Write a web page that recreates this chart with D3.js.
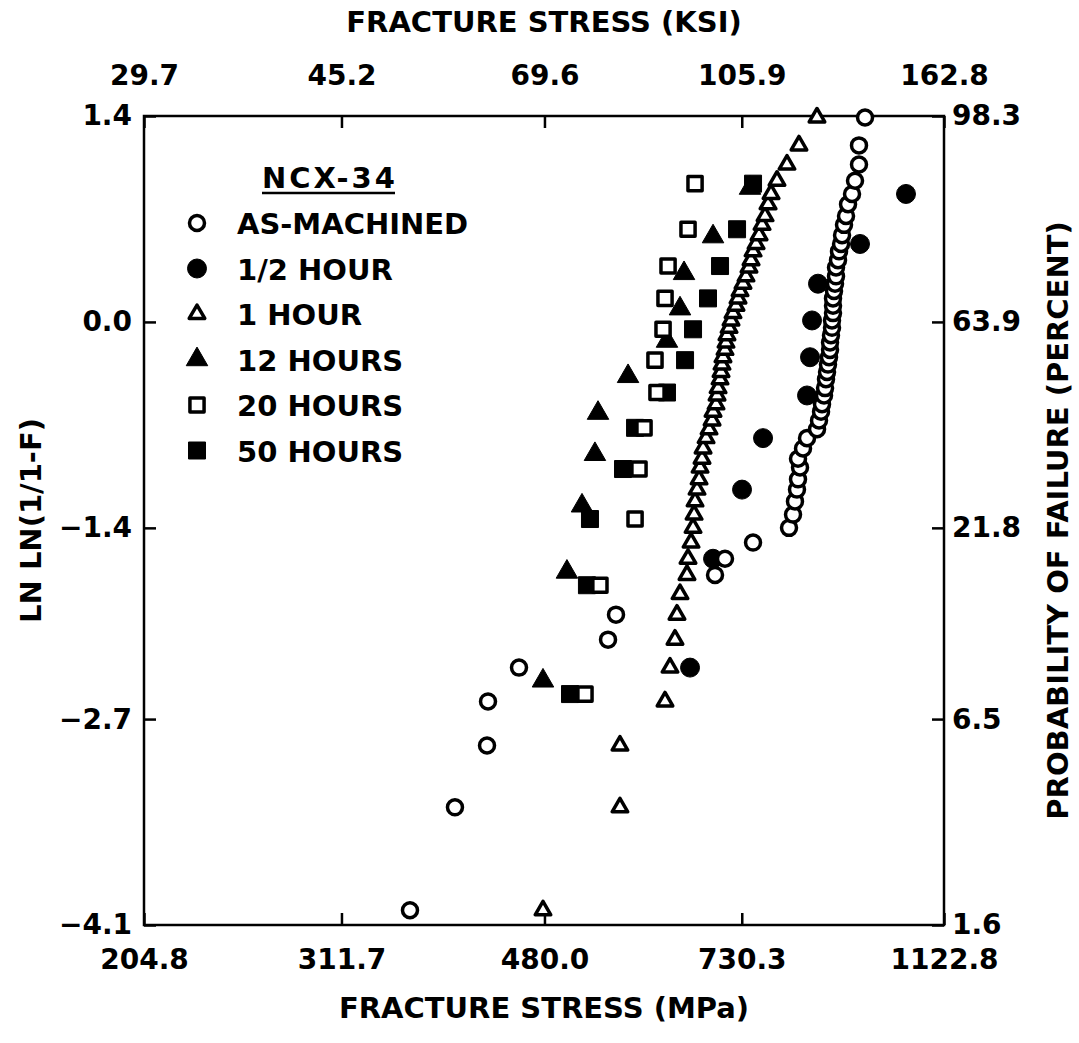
<!DOCTYPE html>
<html>
<head>
<meta charset="utf-8">
<script src="https://cdn.jsdelivr.net/npm/d3@7"></script>
<style>
  body { margin: 0; background: #fff; }
  svg text { font-family: "DejaVu Sans", sans-serif; font-weight: bold; fill: #000; }
</style>
</head>
<body>
<div id="chart"></div>
<script>
// axis ticks
const mpaTicks = [204.8, 311.7, 480.0, 730.3, 1122.8];
const ksiLabels = ["29.7", "45.2", "69.6", "105.9", "162.8"];
const lnTicks = [1.4, 0.0, -1.4, -2.7, -4.1];
const pctLabels = ["98.3", "63.9", "21.8", "6.5", "1.6"];

// as-machined (open circles)
const asMachinedStress = [360.6, 396.8, 424.8, 425.7, 454.7, 549.5, 558.9, 689.9, 704.7, 748.0,
  807.5, 814.4, 817.8, 821.3, 823.1, 826.6, 823.1, 831.9, 839.0, 857.1, 860.7, 864.4, 866.2,
  869.9, 871.8, 873.6, 875.5, 877.3, 879.2, 881.1, 881.1, 882.9, 884.8, 884.8, 886.7, 886.7,
  886.7, 888.6, 890.5, 892.4, 892.4, 896.2, 898.1, 902.0, 903.9, 907.7, 911.6, 915.5, 923.3,
  929.2, 937.1, 937.1, 949.2];
const asMachinedLnLn = [-4.00, -3.30, -2.88, -2.58, -2.35, -2.16, -1.99, -1.72, -1.61, -1.50,
  -1.40, -1.31, -1.22, -1.14, -1.07, -0.99, -0.93, -0.86, -0.79, -0.73, -0.67, -0.61, -0.56,
  -0.50, -0.45, -0.39, -0.34, -0.29, -0.24, -0.19, -0.14, -0.09, -0.04, 0.01, 0.06, 0.11,
  0.16, 0.21, 0.26, 0.31, 0.37, 0.42, 0.48, 0.53, 0.59, 0.66, 0.72, 0.80, 0.87,
  0.96, 1.07, 1.20, 1.39];

// 1/2 hour (filled circles)
const halfHourStress = [654.2, 687.0, 730.7, 764.1, 839.0, 844.4, 848.0, 858.8, 939.1, 1035.6];
const halfHourLnLn = [-2.35, -1.61, -1.14, -0.79, -0.50, -0.24, 0.01, 0.26, 0.53, 0.87];

// 1 hour (open triangles)
const oneHourStress = [478.5, 563.6, 563.6, 620.3, 626.9, 633.6, 636.3, 640.4, 650.0, 651.4,
  655.6, 658.4, 659.8, 661.2, 664.0, 666.9, 668.3, 671.1, 672.6, 676.9, 681.2, 685.6, 687.0,
  691.4, 692.9, 694.4, 697.3, 698.8, 700.2, 701.7, 704.7, 706.2, 707.7, 710.8, 713.8, 716.8,
  721.4, 724.5, 727.6, 732.2, 736.9, 741.6, 744.8, 748.0, 752.8, 757.6, 762.4, 767.3, 772.2,
  777.2, 787.1, 804.0, 824.8, 857.0];
const oneHourLnLn = [-4.00, -3.30, -2.88, -2.58, -2.35, -2.16, -1.99, -1.85, -1.72, -1.61,
  -1.50, -1.40, -1.31, -1.22, -1.14, -1.07, -0.99, -0.93, -0.86, -0.79, -0.73, -0.67, -0.61,
  -0.56, -0.50, -0.45, -0.39, -0.34, -0.29, -0.24, -0.19, -0.14, -0.09, -0.04, 0.01, 0.06,
  0.11, 0.16, 0.21, 0.26, 0.31, 0.37, 0.42, 0.48, 0.53, 0.59, 0.66, 0.72, 0.80,
  0.87, 0.96, 1.07, 1.20, 1.39];

// 12 hours (filled triangles)
const twelveHourStress = [478.5, 503.5, 519.9, 534.4, 537.9, 573.4, 622.9, 640.4, 645.9, 687.0, 743.2];
const twelveHourLnLn = [-2.44, -1.70, -1.25, -0.90, -0.62, -0.37, -0.13, 0.09, 0.33, 0.58, 0.91];

// 20 hours (open squares)
const twentyHourStress = [523.2, 540.1, 582.0, 586.9, 593.2, 609.8, 607.2, 617.7, 620.3, 624.3, 651.4, 661.2];
const twentyHourLnLn = [-2.53, -1.79, -1.34, -1.00, -0.72, -0.48, -0.26, -0.05, 0.16, 0.38, 0.63, 0.94];

// 50 hours (filled squares)
const fiftyHourStress = [506.8, 525.4, 528.8, 567.3, 582.0, 622.9, 647.3, 658.4, 679.7, 697.3, 723.0, 748.0];
const fiftyHourLnLn = [-2.53, -1.79, -1.34, -1.00, -0.72, -0.48, -0.26, -0.05, 0.16, 0.38, 0.63, 0.94];

const legendLabels = ["AS-MACHINED", "1/2 HOUR", "1 HOUR", "12 HOURS", "20 HOURS", "50 HOURS"];

const W = 1079, H = 1043;
const plotL = 144, plotR = 944, plotT = 116, plotB = 925;

const svg = d3.select("#chart").append("svg").attr("width", W).attr("height", H);

const x = d3.scaleLog().domain([204.8, 1122.8]).range([plotL, plotR]);
const y = d3.scaleLinear().domain([-4.1, 1.4]).range([plotB, plotT]);

// marker styles: [symbol type, size, filled]
const markers = [
  [d3.symbolCircle, 177, false],
  [d3.symbolCircle, 283, true],
  [d3.symbolTriangle, 105, false],
  [d3.symbolTriangle, 200, true],
  [d3.symbolSquare, 200, false],
  [d3.symbolSquare, 289, true]
];

const series = [
  { stress: asMachinedStress, lnln: asMachinedLnLn, m: 0 },
  { stress: halfHourStress, lnln: halfHourLnLn, m: 1 },
  { stress: oneHourStress, lnln: oneHourLnLn, m: 2 },
  { stress: twelveHourStress, lnln: twelveHourLnLn, m: 3 },
  { stress: twentyHourStress, lnln: twentyHourLnLn, m: 4 },
  { stress: fiftyHourStress, lnln: fiftyHourLnLn, m: 5 }
];

function styleMarker(sel, m) {
  sel.attr("d", d3.symbol().type(markers[m][0]).size(markers[m][1]))
    .attr("fill", markers[m][2] ? "#000" : "#fff")
    .attr("stroke", "#000")
    .attr("stroke-width", markers[m][2] ? 1 : 3.5)
    .attr("stroke-linejoin", "round");
}

// axes
const fmt = d3.format(".1f");
const axes = svg.append("g");

axes.append("g").attr("transform", `translate(0,${plotB})`)
  .call(d3.axisBottom(x).tickValues(mpaTicks).tickFormat(fmt).tickSize(-12).tickSizeOuter(0).tickPadding(24));
axes.append("g").attr("transform", `translate(0,${plotT})`)
  .call(d3.axisTop(x).tickValues(mpaTicks).tickFormat((d, i) => ksiLabels[i]).tickSize(-12).tickSizeOuter(0).tickPadding(31));
axes.append("g").attr("transform", `translate(${plotL},0)`)
  .call(d3.axisLeft(y).tickValues(lnTicks).tickFormat(fmt).tickSize(-12).tickSizeOuter(0).tickPadding(12));
axes.append("g").attr("transform", `translate(${plotR},0)`)
  .call(d3.axisRight(y).tickValues(lnTicks).tickFormat((d, i) => pctLabels[i]).tickSize(-12).tickSizeOuter(0).tickPadding(8));

axes.selectAll(".domain").remove();
axes.selectAll(".tick line").attr("stroke", "#000").attr("stroke-width", 2.5);
axes.selectAll("text")
  .attr("font-family", null).attr("fill", "#000")
  .style("font-size", "28px");

svg.append("rect")
  .attr("x", plotL).attr("y", plotT)
  .attr("width", plotR - plotL).attr("height", plotB - plotT)
  .attr("fill", "none").attr("stroke", "#000").attr("stroke-width", 2.5);

// titles
svg.append("text").attr("x", (plotL + plotR) / 2).attr("y", 32)
  .attr("text-anchor", "middle").style("font-size", "29px").text("FRACTURE STRESS (KSI)");
svg.append("text").attr("x", (plotL + plotR) / 2).attr("y", 1018)
  .attr("text-anchor", "middle").style("font-size", "29px").text("FRACTURE STRESS (MPa)");
svg.append("text").attr("transform", `translate(41,${(plotT + plotB) / 2}) rotate(-90)`)
  .attr("text-anchor", "middle").style("font-size", "29px").text("LN LN(1/1-F)");
svg.append("text").attr("transform", `translate(1068,${(plotT + plotB) / 2}) rotate(-90)`)
  .attr("text-anchor", "middle").style("font-size", "29px").text("PROBABILITY OF FAILURE (PERCENT)");

// points: filled series underneath open ones
const drawOrder = [1, 3, 5, 4, 2, 0];
drawOrder.forEach(function (k) {
  const s = series[k];
  svg.append("g").selectAll("path")
    .data(s.stress.map((v, i) => [v, s.lnln[i]]))
    .join("path")
    .attr("transform", d => `translate(${x(d[0])},${y(d[1])})`)
    .call(styleMarker, s.m);
});

// legend
const lg = svg.append("g");
lg.append("text").attr("x", 262).attr("y", 188).style("font-size", "29px")
  .style("letter-spacing", "3px").text("NCX-34");
lg.append("line").attr("x1", 262).attr("x2", 395).attr("y1", 193).attr("y2", 193)
  .attr("stroke", "#000").attr("stroke-width", 2.5);

const rows = lg.selectAll("g.row").data(legendLabels).join("g")
  .attr("class", "row")
  .attr("transform", (d, i) => `translate(0,${234 + i * 45.5})`);
rows.append("path").attr("transform", "translate(197,-11)")
  .each(function (d, i) { d3.select(this).call(styleMarker, i); });
rows.append("text").attr("x", 237).attr("y", 0).style("font-size", "29px").text(d => d);
</script>
</body>
</html>
